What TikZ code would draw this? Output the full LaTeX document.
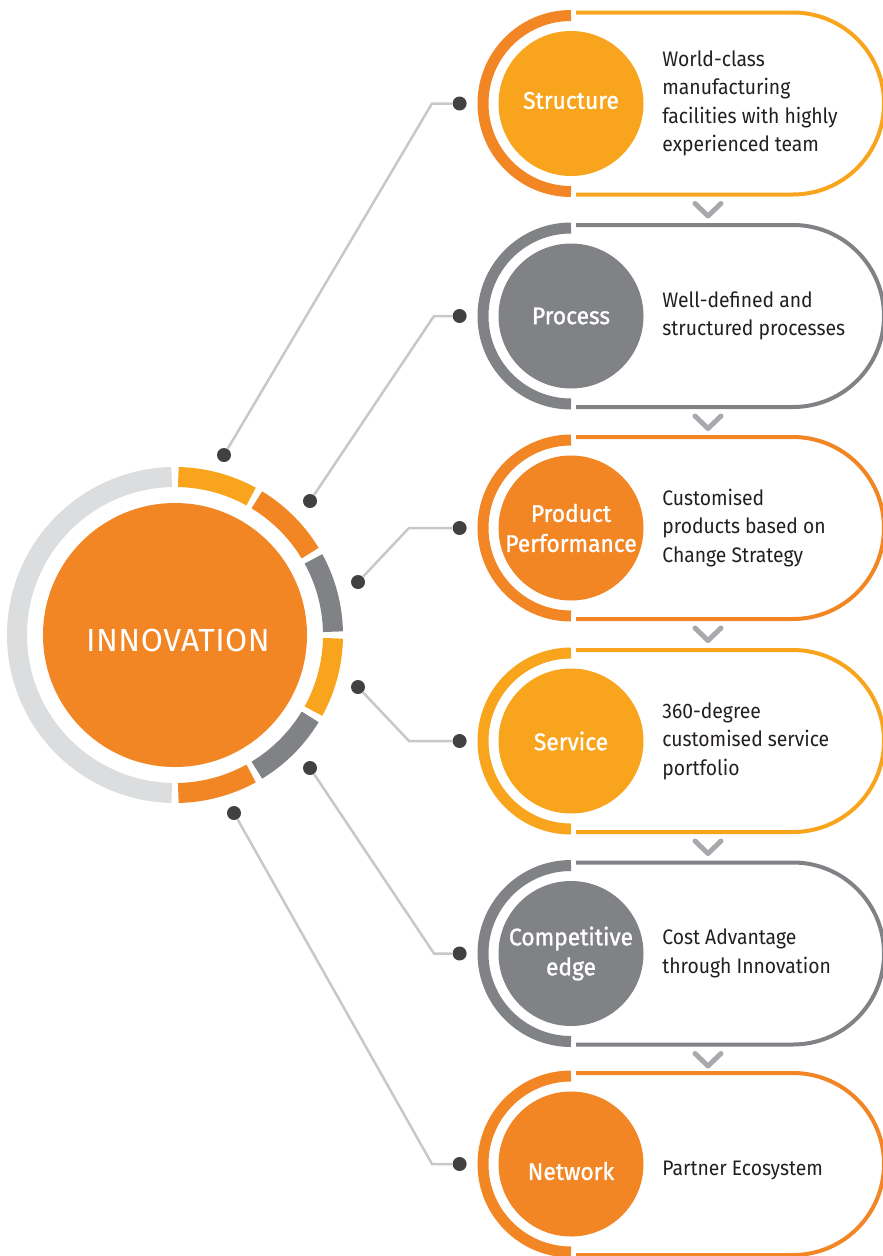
\documentclass[tikz,border=0pt]{standalone}
\usepackage{fontspec}
\setmainfont{Fira Sans}[FakeStretch=0.92]
\newfontfamily\labelfont{Fira Sans}[FakeBold=1.2, FakeStretch=0.95]
\newfontfamily\hubfont{Fira Sans}[LetterSpace=1.5]
\usetikzlibrary{positioning}

\definecolor{innoyellow}{HTML}{F8A51D}
\definecolor{innoorange}{HTML}{F28524}
\definecolor{innogrey}{HTML}{808285}
\definecolor{ringgrey}{HTML}{DCDDDE}
\definecolor{wiregrey}{HTML}{C8C8C8}
\definecolor{dotgrey}{HTML}{414042}
\definecolor{chevgrey}{HTML}{A7A9AC}
\definecolor{bodytext}{HTML}{231F20}

\newcommand{\dropby}[2]{\raisebox{-#1}[\height][\depth]{#2}}

\tikzset{
  hubdot/.style={circle, fill=dotgrey, minimum size=14pt, inner sep=0pt},
  wire/.style={wiregrey, line width=2.5pt},
  lab/.style={circle, minimum size=145pt, inner sep=0pt, text=white, align=center,
    font=\labelfont\fontsize{24}{30}\selectfont},
  desc/.style={inner sep=0pt, align=left, text=bodytext, font=\fontsize{21}{28.5}\selectfont},
  halo/.style={line width=11pt},
  pill/.style={line width=4pt},
  seg/.style={line width=20pt},
  chev/.style={chevgrey, line width=5pt, line cap=round, line join=round},
}

\begin{document}
\begin{tikzpicture}[x=1pt, y=-1pt]

	\useasboundingbox (0,0) rectangle (883,1256);
	
	% hub
	\node[circle, fill=innoorange, minimum size=264pt, inner sep=0pt, text=white,
	  font=\hubfont\fontsize{32}{32}\selectfont] (hub) at (175,635) {\hspace{6pt}\dropby{5pt}{INNOVATION}};
	\draw[ringgrey, seg] (175,635) ++(-91.2:158) arc[start angle=-91.2, end angle=-268.8, radius=158];
	\draw[innoyellow, seg] (175,635) ++(-88.8:158) arc[start angle=-88.8, end angle=-61.2, radius=158];
	\draw[innoorange, seg] (175,635) ++(-58.8:158) arc[start angle=-58.8, end angle=-31.2, radius=158];
	\draw[innogrey, seg] (175,635) ++(-28.8:158) arc[start angle=-28.8, end angle=-1.2, radius=158];
	\draw[innoyellow, seg] (175,635) ++(1.2:158) arc[start angle=1.2, end angle=28.8, radius=158];
	\draw[innogrey, seg] (175,635) ++(31.2:158) arc[start angle=31.2, end angle=58.8, radius=158];
	\draw[innoorange, seg] (175,635) ++(61.2:158) arc[start angle=61.2, end angle=88.8, radius=158];
	
	% Structure
	\node[lab, fill=innoyellow] (lab1) at (571,103.5) {\dropby{-3pt}{Structure}};
	\draw[innoorange, halo] (571,15.5) arc[start angle=-90, end angle=-270, radius=88];
	\draw[innoyellow, pill] (576,12.5) -- (793,12.5) arc[start angle=-90, end angle=90, radius=91] -- (576,194.5);
	\node[desc, right=18.5pt of lab1] (desc1) {World-class\\manufacturing\\facilities with highly\\experienced team};
	\node[hubdot, left=31.5pt of lab1] (end1) {};
	\node[hubdot] (start1) at (224,455) {};
	\coordinate (bend1) at (432,103.5);
	\draw[wire] (start1) -- (bend1) -- (end1);
	\draw[chev] (695,203.5) -- (708,216) -- (721,203.5);
	
	% Process
	\node[lab, fill=innogrey] (lab2) at (571,316) {Process};
	\draw[innogrey, halo] (571,228) arc[start angle=-90, end angle=-270, radius=88];
	\draw[innogrey, pill] (576,225) -- (793,225) arc[start angle=-90, end angle=90, radius=91] -- (576,407);
	\node[desc, right=18.5pt of lab2] (desc2) {Well-defined and\\structured processes};
	\node[hubdot, left=31.5pt of lab2] (end2) {};
	\node[hubdot] (start2) at (310,501) {};
	\coordinate (bend2) at (434,316);
	\draw[wire] (start2) -- (bend2) -- (end2);
	\draw[chev] (695,416) -- (708,428.5) -- (721,416);
	
	% Product Performance
	\node[lab, fill=innoorange] (lab3) at (571,528) {Product\\Performance};
	\draw[innoorange, halo] (571,440) arc[start angle=-90, end angle=-270, radius=88];
	\draw[innoorange, pill] (576,437) -- (793,437) arc[start angle=-90, end angle=90, radius=91] -- (576,619);
	\node[desc, right=18.5pt of lab3] (desc3) {Customised\\products based on\\Change Strategy};
	\node[hubdot, left=31.5pt of lab3] (end3) {};
	\node[hubdot] (start3) at (358,582) {};
	\coordinate (bend3) at (409,528);
	\draw[wire] (start3) -- (bend3) -- (end3);
	\draw[chev] (695,628) -- (708,640.5) -- (721,628);
	
	% Service
	\node[lab, fill=innoyellow] (lab4) at (571,741) {Service};
	\draw[innoyellow, halo] (571,653) arc[start angle=-90, end angle=-270, radius=88];
	\draw[innoyellow, pill] (576,650) -- (793,650) arc[start angle=-90, end angle=90, radius=91] -- (576,832);
	\node[desc, right=18.5pt of lab4] (desc4) {360-degree\\customised service\\portfolio};
	\node[hubdot, left=31.5pt of lab4] (end4) {};
	\node[hubdot] (start4) at (358,687) {};
	\coordinate (bend4) at (409,741);
	\draw[wire] (start4) -- (bend4) -- (end4);
	\draw[chev] (695,841) -- (708,853.5) -- (721,841);
	
	% Competitive edge
	\node[lab, fill=innogrey] (lab5) at (571,953.5) {Competitive\\edge};
	\draw[innogrey, halo] (571,865.5) arc[start angle=-90, end angle=-270, radius=88];
	\draw[innogrey, pill] (576,862.5) -- (793,862.5) arc[start angle=-90, end angle=90, radius=91] -- (576,1044.5);
	\node[desc, right=18.5pt of lab5] (desc5) {Cost Advantage\\through Innovation};
	\node[hubdot, left=31.5pt of lab5] (end5) {};
	\node[hubdot] (start5) at (310,768) {};
	\coordinate (bend5) at (434,953.5);
	\draw[wire] (start5) -- (bend5) -- (end5);
	\draw[chev] (695,1053.5) -- (708,1066) -- (721,1053.5);
	
	% Network
	\node[lab, fill=innoorange] (lab6) at (571,1164) {\dropby{7pt}{Network}};
	\draw[innoorange, halo] (571,1076) arc[start angle=-90, end angle=-270, radius=88];
	\draw[innoorange, pill] (576,1073) -- (793,1073) arc[start angle=-90, end angle=90, radius=91] -- (576,1255);
	\node[desc, right=18.5pt of lab6] (desc6) {\dropby{6pt}{Partner Ecosystem}};
	\node[hubdot, left=31.5pt of lab6] (end6) {};
	\node[hubdot] (start6) at (234,813) {};
	\coordinate (bend6) at (432,1164);
	\draw[wire] (start6) -- (bend6) -- (end6);

\end{tikzpicture}
\end{document}
